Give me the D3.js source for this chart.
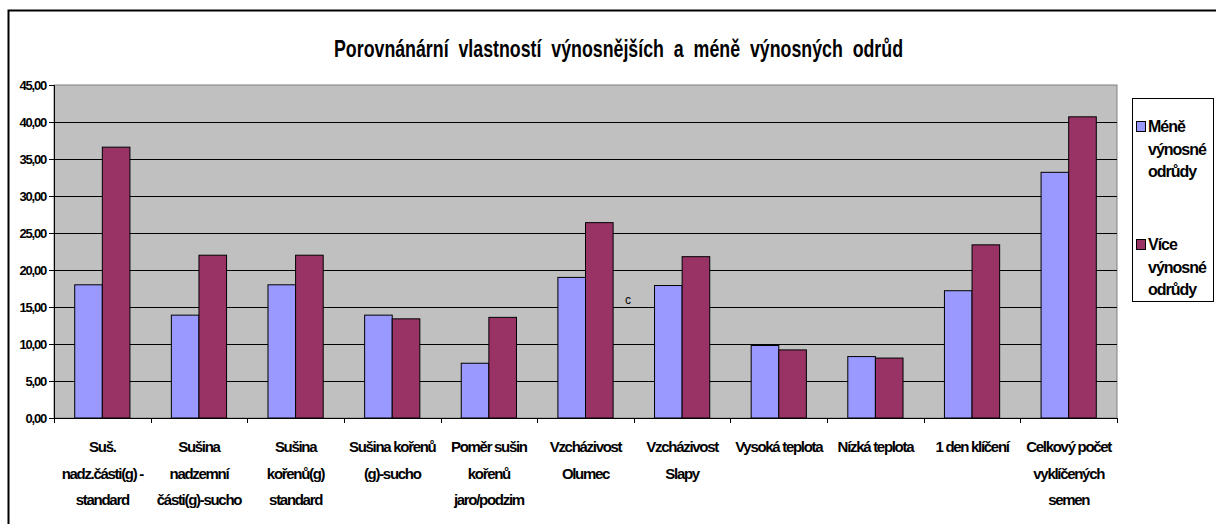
<!DOCTYPE html>
<html>
<head>
<meta charset="utf-8">
<script src="https://cdn.jsdelivr.net/npm/d3@7"></script>
<style>
  html, body { margin: 0; padding: 0; background: #fff; }
  svg { display: block; font-family: "Liberation Sans", Arial, sans-serif; }
</style>
</head>
<body>
<svg id="chart" width="1216" height="524"></svg>
<script>
// Category labels (each entry is the list of wrapped lines)
const categories = [
  ["Suš.", "nadz.části(g) -", "standard"],
  ["Sušina", "nadzemní", "části(g)-sucho"],
  ["Sušina", "kořenů(g)", "standard"],
  ["Sušina kořenů", "(g)-sucho"],
  ["Poměr sušin", "kořenů", "jaro/podzim"],
  ["Vzcházivost", "Olumec"],
  ["Vzcházivost", "Slapy"],
  ["Vysoká teplota"],
  ["Nízká teplota"],
  ["1 den klíčení"],
  ["Celkový počet", "vyklíčených", "semen"]
];
const seriesNames = [["Méně", "výnosné", "odrůdy"], ["Více", "výnosné", "odrůdy"]];
const lessYielding = [18.0, 13.9, 18.0, 13.9, 7.4, 19.0, 17.9, 9.8, 8.3, 17.2, 33.2];
const moreYielding = [36.6, 22.0, 22.0, 13.4, 13.6, 26.4, 21.8, 9.2, 8.1, 23.4, 40.7];
const yTicks = [0, 5, 10, 15, 20, 25, 30, 35, 40, 45];
const titleText = "Porovnánární  vlastností  výnosnějších  a  méně  výnosných  odrůd";

const colors = ["#9999FF", "#993366"];
const series = [lessYielding, moreYielding];

const svg = d3.select("#chart");
const plot = { left: 54, right: 1117, top: 85, bottom: 418 };

// Outer chart frame
svg.append("rect")
  .attr("x", 8.5).attr("y", 10.5)
  .attr("width", 1230).attr("height", 540)
  .attr("fill", "#fff").attr("stroke", "#000").attr("stroke-width", 2);

// Title, horizontally compressed like the spreadsheet rendering
svg.append("text")
  .attr("x", 334).attr("y", 57)
  .attr("font-size", 24).attr("font-weight", "bold")
  .attr("textLength", 569).attr("lengthAdjust", "spacingAndGlyphs")
  .style("white-space", "pre")
  .text(titleText);

const catIdx = d3.range(categories.length);
const x = d3.scaleBand().domain(catIdx).range([plot.left, plot.right]).paddingInner(0).paddingOuter(0);
const y = d3.scaleLinear().domain([0, 45]).range([plot.bottom, plot.top]);
const barW = x.bandwidth() / 3.5;
const xs = d3.scaleBand().domain([0, 1]).range([0.75 * barW, 2.75 * barW]);

// Plot background
svg.append("rect")
  .attr("x", plot.left).attr("y", plot.top)
  .attr("width", plot.right - plot.left).attr("height", plot.bottom - plot.top)
  .attr("fill", "#C0C0C0").attr("stroke", "#808080").attr("stroke-width", 1);

// Gridlines
svg.append("g").selectAll("line")
  .data(yTicks.filter(t => t > 0 && t < 45))
  .join("line")
  .attr("x1", plot.left).attr("x2", plot.right)
  .attr("y1", d => Math.round(y(d)) + 0.5).attr("y2", d => Math.round(y(d)) + 0.5)
  .attr("stroke", "#000").attr("stroke-width", 1);

// Bars
series.forEach((vals, s) => {
  svg.append("g").selectAll("rect")
    .data(vals)
    .join("rect")
    .attr("x", (d, i) => x(i) + xs(s))
    .attr("y", d => y(d))
    .attr("width", xs.bandwidth())
    .attr("height", d => y(0) - y(d))
    .attr("fill", colors[s])
    .attr("stroke", "#000").attr("stroke-width", 1);
});

// Y axis
const yAxis = d3.axisLeft(y).tickValues(yTicks).tickSize(5).tickPadding(3)
  .tickFormat(d => d3.format(".2f")(d).replace(".", ","));
const gy = svg.append("g").attr("transform", `translate(${plot.left},0)`).call(yAxis);
gy.select(".domain").attr("stroke", "#000");
gy.selectAll(".tick line").attr("stroke", "#000");
gy.selectAll(".tick text")
  .attr("font-family", "Liberation Sans, Arial, sans-serif")
  .attr("font-size", 13).attr("font-weight", "bold")
  .attr("letter-spacing", "-1.2px").attr("fill", "#000");

// X axis line and category boundary ticks
svg.append("line")
  .attr("x1", plot.left).attr("x2", plot.right)
  .attr("y1", plot.bottom + 0.5).attr("y2", plot.bottom + 0.5)
  .attr("stroke", "#000");
svg.append("g").selectAll("line")
  .data(d3.range(categories.length + 1))
  .join("line")
  .attr("x1", d => Math.round(plot.left + d * x.bandwidth()) + 0.5)
  .attr("x2", d => Math.round(plot.left + d * x.bandwidth()) + 0.5)
  .attr("y1", plot.bottom).attr("y2", plot.bottom + 5)
  .attr("stroke", "#000");

// Category labels
const lab = svg.append("g").selectAll("text")
  .data(categories)
  .join("text")
  .attr("text-anchor", "middle")
  .attr("font-size", 15).attr("font-weight", "bold")
  .attr("letter-spacing", "-1.3px");
lab.each(function(lines, i) {
  d3.select(this).selectAll("tspan")
    .data(lines)
    .join("tspan")
    .attr("x", x(i) + x.bandwidth() / 2)
    .attr("y", (d, k) => 452 + k * 26.5)
    .text(d => d);
});

// Stray cell mark inside the plot
svg.append("text")
  .attr("x", 625).attr("y", 304)
  .attr("font-size", 12)
  .text("c");

// Legend
svg.append("rect")
  .attr("x", 1132.5).attr("y", 98.5)
  .attr("width", 81).attr("height", 203)
  .attr("fill", "#fff").attr("stroke", "#000").attr("stroke-width", 1);
seriesNames.forEach((lines, s) => {
  const top = 121 + s * 118;
  svg.append("rect")
    .attr("x", 1136.5).attr("y", top + 0.5)
    .attr("width", 9).attr("height", 10)
    .attr("fill", colors[s]).attr("stroke", "#000");
  svg.append("text")
    .attr("font-size", 16).attr("font-weight", "bold")
    .attr("letter-spacing", "-1px")
    .selectAll("tspan")
    .data(lines)
    .join("tspan")
    .attr("x", 1148)
    .attr("y", (d, k) => top + 11 + k * 22.5)
    .text(d => d);
});
</script>
</body>
</html>
